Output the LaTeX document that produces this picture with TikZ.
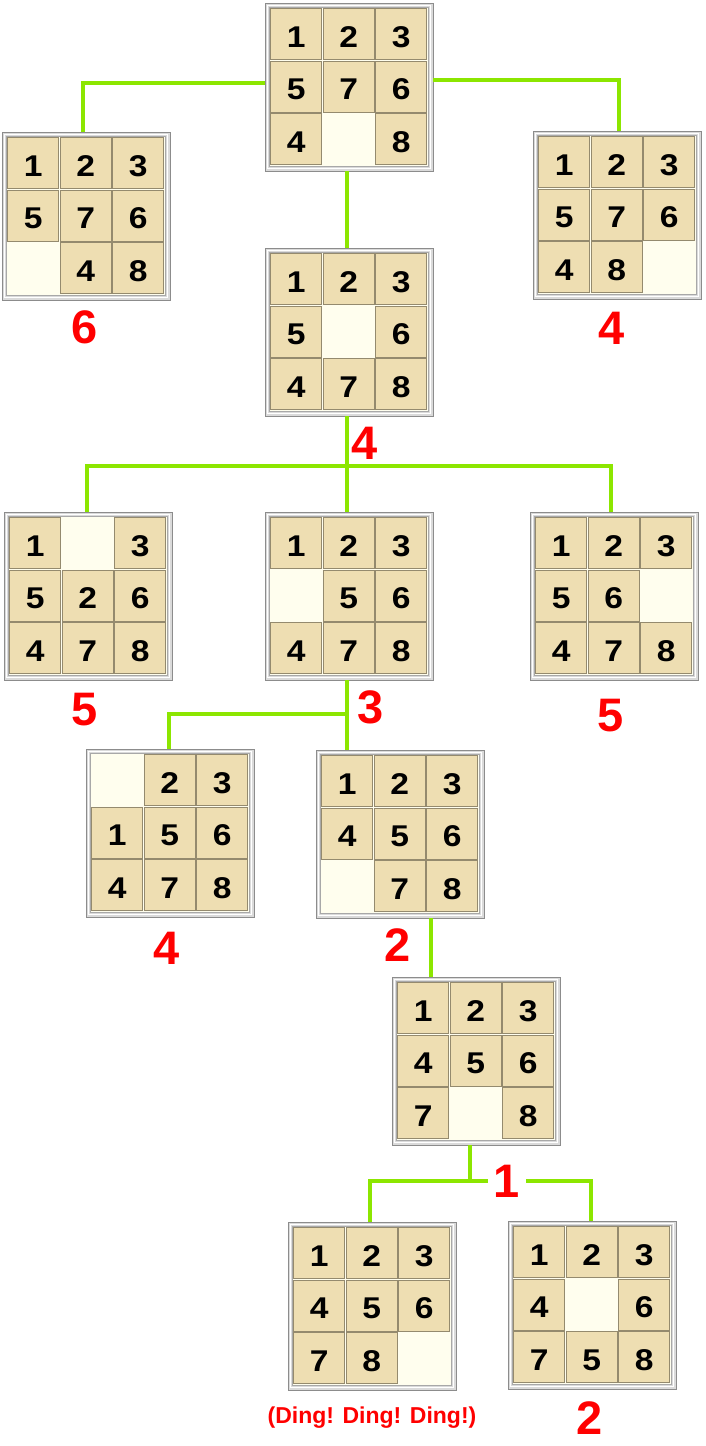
\documentclass[tikz,border=0pt]{standalone}
\usepackage{fontspec}
\setmainfont{Liberation Sans}
\newfontfamily\tilefont[FakeStretch=1.12]{Liberation Sans Bold}
\usetikzlibrary{calc}
\definecolor{frameGray}{HTML}{8C8C8C}
\definecolor{bevelGray}{HTML}{DADADA}
\definecolor{holeFill}{HTML}{FFFEEE}
\definecolor{innerGray}{HTML}{A8A8A8}
\definecolor{tileTan}{HTML}{EEDEB2}
\definecolor{tileEdge}{HTML}{948A6E}
\definecolor{linkGreen}{HTML}{8CE600}
\definecolor{labRed}{HTML}{FF0000}
\tikzset{
  board/.style={draw=frameGray, fill=bevelGray, line width=1pt, minimum width=168pt, minimum height=168pt, inner sep=0pt, outer sep=0pt},
  tile/.style={draw=tileEdge, fill=tileTan, line width=0.9pt, minimum size=51pt, inner sep=0pt, outer sep=0pt,
    font=\fontsize{30}{30}\tilefont, text height=25.5pt, text depth=0pt},
  link/.style={draw=linkGreen, line width=4.5pt},
  lab/.style={text=labRed, font=\fontsize{47}{47}\selectfont\bfseries, inner sep=0pt},
  dinglab/.style={text=labRed, font=\fontsize{23}{23}\selectfont\bfseries, inner sep=0pt}
}
\newcommand\puzzle[4]{%
  \node[board] (#1) at ({#2+84},{#3+84}) {};
  \draw[white, line width=1.2pt] ($(#1.north west)+(2.2,2.2)$) rectangle ($(#1.south east)+(-2.2,-2.2)$);
  \filldraw[fill=holeFill, draw=innerGray, line width=0.6pt] ($(#1.north west)+(4.5,4.5)$) rectangle ($(#1.south east)+(-5,-5)$);
  \foreach \v [count=\i from 0] in {#4} {%
    \pgfmathtruncatemacro\rr{int(\i/3)}%
    \pgfmathtruncatemacro\cc{mod(\i,3)}%
    \ifnum\v>0
      \node[tile] (#1-\i) at ($(#1.north west)+({31.25+52.5*\cc},{31.25+52.5*\rr})$) {\v};
    \fi
  }%
}
\begin{document}
\begin{tikzpicture}[x=1pt,y=-1pt]
\useasboundingbox[fill=white] (0,0) rectangle (705,1446);

\puzzle{A}{265}{3}{1,2,3,5,7,6,4,0,8}
\puzzle{B}{2}{132}{1,2,3,5,7,6,0,4,8}
\puzzle{C}{533}{131}{1,2,3,5,7,6,4,8,0}
\puzzle{D}{265}{248}{1,2,3,5,0,6,4,7,8}
\puzzle{E}{4}{512}{1,0,3,5,2,6,4,7,8}
\puzzle{F}{265}{512}{1,2,3,0,5,6,4,7,8}
\puzzle{G}{530}{512}{1,2,3,5,6,0,4,7,8}
\puzzle{H}{86}{749}{0,2,3,1,5,6,4,7,8}
\puzzle{I}{316}{750}{1,2,3,4,5,6,0,7,8}
\puzzle{J}{392}{977}{1,2,3,4,5,6,7,0,8}
\puzzle{K}{288}{1222}{1,2,3,4,5,6,7,8,0}
\puzzle{L}{508}{1221}{1,2,3,4,0,6,7,5,8}

% connectors
\draw[link] ([yshift=4pt]A.west) -| ([xshift=-3pt]B.north);
\draw[link] ([yshift=7pt]A.east) -| ([xshift=2pt]C.north);
\draw[link] ([xshift=-2pt]A.south) -- ([xshift=-2pt]D.north);

\coordinate (busD) at (0,466);
\coordinate (dx) at ([xshift=-2pt]D.south);
\draw[link] (dx) -- ([xshift=-2pt]F.north);
\draw[link] ([xshift=-1pt]E.north) |- (dx |- busD) -| ([xshift=-3pt]G.north);

\coordinate (busF) at (0,714);
\coordinate (fx) at ([xshift=-2pt]F.south);
\draw[link] (fx) -- (fx |- I.north);
\draw[link] ([xshift=-1pt]H.north) |- (fx |- busF);

\coordinate (ix) at ([xshift=31pt]I.south);
\draw[link] (ix) -- (ix |- J.north);

\coordinate (busJ) at (0,1181);
\coordinate (jx) at ([xshift=-6pt]J.south);
\coordinate (kx) at ([xshift=-2pt]K.north);
\coordinate (lx) at ([xshift=-1pt]L.north);
\draw[link] (jx) -- (jx |- busJ);
\draw[link] (kx) |- (lx |- busJ) -- (lx);

% labels
\node[lab] (lB) at (85,327) {6};
\node[lab] (lC) at (612,328) {4};
\node[lab] (lD) at (365,443) {4};
\node[lab] (lE) at (85,710) {5};
\node[lab] (lF) at (371,707) {3};
\node[lab] (lG) at (611,716) {5};
\node[lab] (lH) at (167,948) {4};
\node[lab] (lI) at (398,945) {2};
\node[lab, fill=white, inner xsep=6pt, inner ysep=2pt] (lJ) at (507,1181) {1};
\node[dinglab] (lK) at (372,1418) {(Ding! Ding! Ding!)};
\node[lab] (lL) at (590,1418) {2};
\end{tikzpicture}
\end{document}
